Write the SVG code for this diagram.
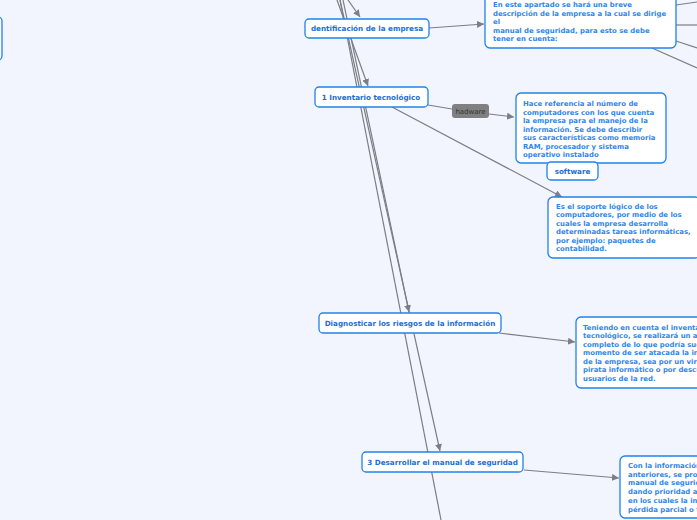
<svg xmlns="http://www.w3.org/2000/svg" width="697" height="520" viewBox="0 0 697 520">
<style>
.bg{fill:#f2f5fd}
.box{fill:#ffffff;stroke:#1f82ec;stroke-width:1.3}
.t{font-family:"DejaVu Sans",Verdana,sans-serif;font-weight:bold;font-size:7.2px;fill:#1c6fd3}
.d{font-family:"DejaVu Sans",Verdana,sans-serif;font-weight:bold;font-size:6.9px;fill:#2f86ea}
.c{fill:none;stroke:#7d7d85;stroke-width:1.2}
.lbl{fill:#808080}
.lt{font-family:"DejaVu Sans",Verdana,sans-serif;font-size:7px;fill:#333333}
</style>
<defs>
<marker id="ar" viewBox="0 0 10 10" refX="10" refY="5" markerWidth="7" markerHeight="7" markerUnits="userSpaceOnUse" orient="auto">
<path d="M0,0 L10,5 L0,10 z" fill="#7d7d85"/>
</marker>
</defs>
<rect class="bg" x="0" y="0" width="697" height="520"/>
<g id="connectors">
<line class="c" x1="348" y1="0" x2="360" y2="17" marker-end="url(#ar)"/>
<line class="c" x1="337" y1="0" x2="368" y2="86" marker-end="url(#ar)"/>
<line class="c" x1="340" y1="0" x2="441" y2="520"/>
<line class="c" x1="343" y1="0" x2="409" y2="312" marker-end="url(#ar)"/>
<line class="c" x1="340" y1="0" x2="440" y2="451" marker-end="url(#ar)"/>
<line class="c" x1="429" y1="28" x2="484" y2="24" marker-end="url(#ar)"/>
<line class="c" x1="676" y1="5" x2="697" y2="2"/>
<line class="c" x1="676" y1="25" x2="697" y2="25"/>
<line class="c" x1="676" y1="41" x2="697" y2="48"/>
<line class="c" x1="652" y1="48" x2="697" y2="68"/>
<line class="c" x1="428" y1="105" x2="452" y2="109"/>
<line class="c" x1="489" y1="114" x2="514" y2="117" marker-end="url(#ar)"/>
<line class="c" x1="392" y1="107" x2="562" y2="197" marker-end="url(#ar)"/>
<line class="c" x1="499" y1="333" x2="575" y2="342" marker-end="url(#ar)"/>
<line class="c" x1="524" y1="470" x2="619" y2="478" marker-end="url(#ar)"/>
</g>
<g id="left-node">
<rect class="box" x="-60" y="17" width="62" height="43" rx="4"/>
</g>
<g id="identificacion">
<rect class="box" x="305" y="19" width="124" height="19" rx="4"/>
<text class="t" x="367" y="31" text-anchor="middle">dentificación de la empresa</text>
</g>
<g id="descripcion">
<rect class="box" x="485" y="-20" width="191" height="68" rx="5"/>
<text class="d" x="493" y="7">En este apartado se hará una breve</text>
<text class="d" x="493" y="16">descripción de la empresa a la cual se dirige</text>
<text class="d" x="493" y="24">el</text>
<text class="d" x="493" y="33">manual de seguridad, para esto se debe</text>
<text class="d" x="493" y="41">tener en cuenta:</text>
</g>
<g id="inventario">
<rect class="box" x="315" y="87" width="113" height="20" rx="4"/>
<text class="t" x="371" y="100" text-anchor="middle">1 Inventario tecnológico</text>
</g>
<g id="hadware">
<rect class="lbl" x="452" y="104" width="37" height="14" rx="3"/>
<text class="lt" x="470.5" y="113.5" text-anchor="middle">hadware</text>
</g>
<g id="hace-referencia">
<rect class="box" x="516" y="93" width="150" height="70" rx="5"/>
<text class="d" x="523" y="106">Hace referencia al número de</text>
<text class="d" x="523" y="114.5">computadores con los que cuenta</text>
<text class="d" x="523" y="123">la empresa para el manejo de la</text>
<text class="d" x="523" y="131.5">información. Se debe describir</text>
<text class="d" x="523" y="140">sus características como memoria</text>
<text class="d" x="523" y="148.5">RAM, procesador y sistema</text>
<text class="d" x="523" y="157">operativo instalado</text>
</g>
<g id="software">
<rect class="box" x="547" y="162" width="51" height="18" rx="4"/>
<text class="t" x="572.5" y="173.5" text-anchor="middle">software</text>
</g>
<g id="soporte">
<rect class="box" x="548" y="197" width="152" height="61" rx="5"/>
<text class="d" x="556" y="208.5">Es el soporte lógico de los</text>
<text class="d" x="556" y="217">computadores, por medio de los</text>
<text class="d" x="556" y="225.5">cuales la empresa desarrolla</text>
<text class="d" x="556" y="234">determinadas tareas informáticas,</text>
<text class="d" x="556" y="242.5">por ejemplo: paquetes de</text>
<text class="d" x="556" y="251">contabilidad.</text>
</g>
<g id="diagnosticar">
<rect class="box" x="319" y="313" width="182" height="20" rx="4"/>
<text class="t" x="410" y="326" text-anchor="middle">Diagnosticar los riesgos de la información</text>
</g>
<g id="teniendo">
<rect class="box" x="576" y="317" width="140" height="71" rx="5"/>
<text class="d" x="583" y="329.5">Teniendo en cuenta el inventario</text>
<text class="d" x="583" y="338">tecnológico, se realizará un análisis</text>
<text class="d" x="583" y="346.5">completo de lo que podría suceder</text>
<text class="d" x="583" y="355">momento de ser atacada la información</text>
<text class="d" x="583" y="363.5">de la empresa, sea por un virus,</text>
<text class="d" x="583" y="372">pirata informático o por descuido</text>
<text class="d" x="583" y="380.5">usuarios de la red.</text>
</g>
<g id="desarrollar">
<rect class="box" x="362" y="452" width="161" height="20" rx="4"/>
<text class="t" x="442.5" y="465" text-anchor="middle">3 Desarrollar el manual de seguridad</text>
</g>
<g id="con-la-informacion">
<rect class="box" x="620" y="456" width="100" height="62" rx="5"/>
<text class="d" x="628" y="468">Con la información</text>
<text class="d" x="628" y="476.5">anteriores, se procede</text>
<text class="d" x="628" y="485">manual de seguridad</text>
<text class="d" x="628" y="494">dando prioridad a</text>
<text class="d" x="628" y="503">en los cuales la información</text>
<text class="d" x="628" y="511.5">pérdida parcial o total</text>
</g>
</svg>
